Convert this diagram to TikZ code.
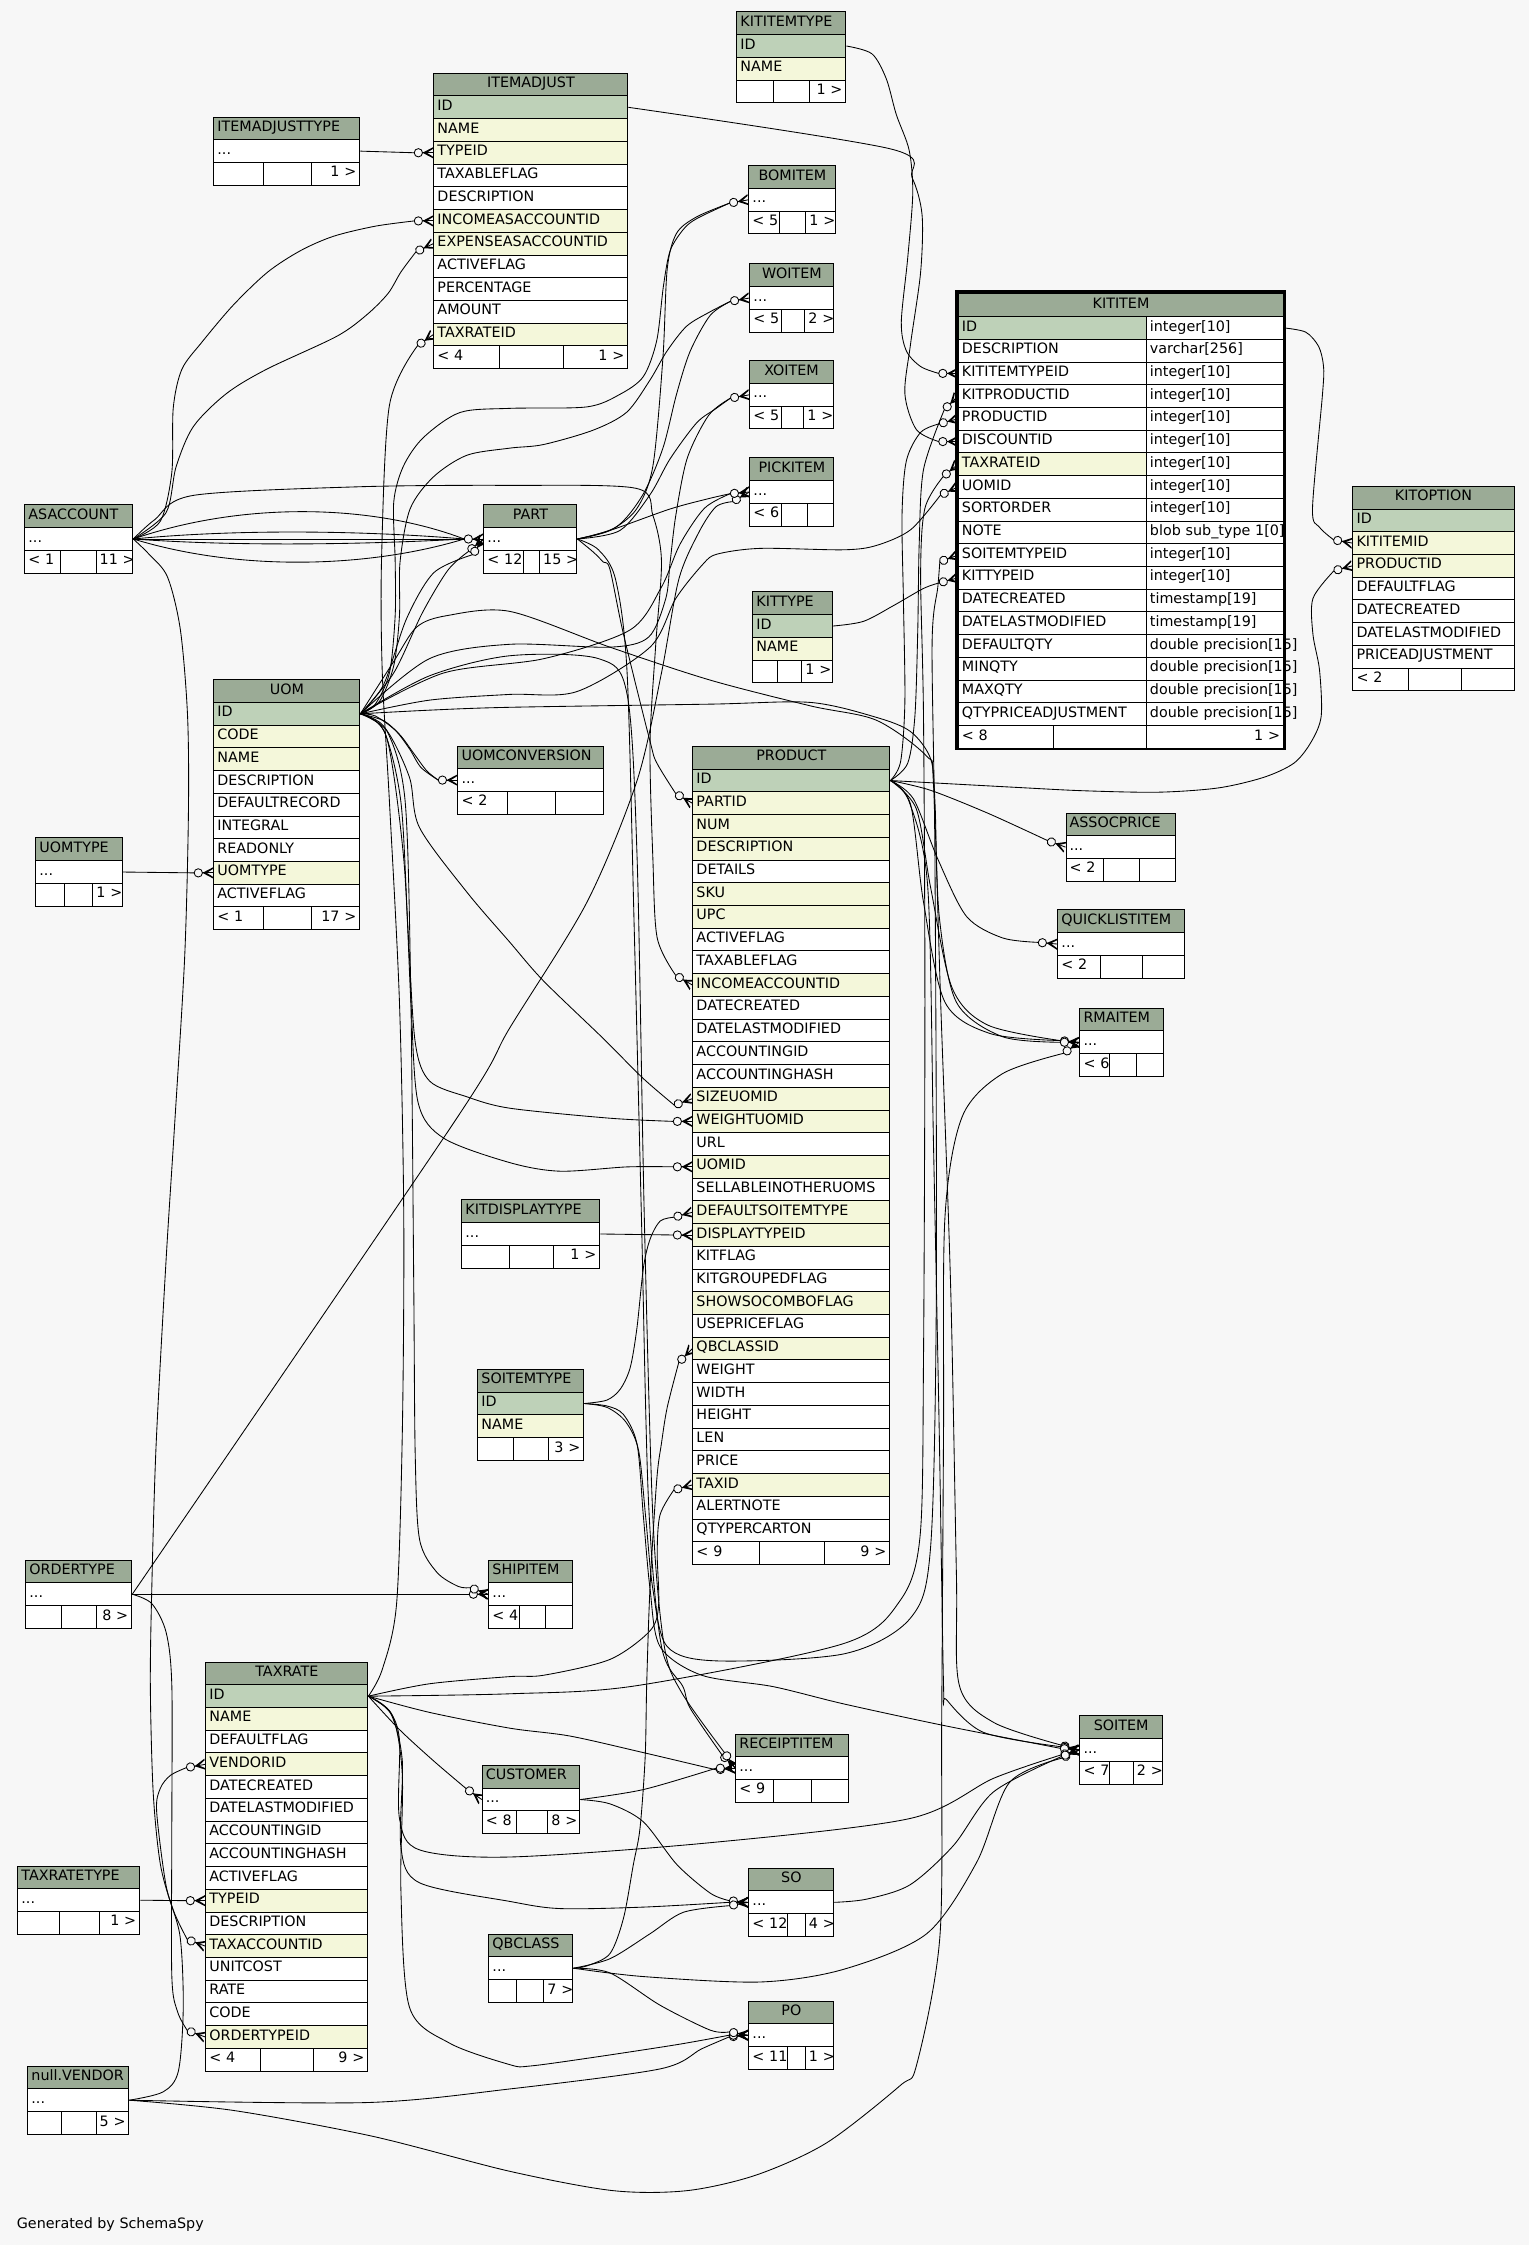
\documentclass[tikz,border=0pt]{standalone}
\usepackage{fontspec}
\setmainfont{DejaVu Sans}
\usetikzlibrary{calc}
\definecolor{hdr}{HTML}{9BAB96}
\definecolor{keyc}{HTML}{BED1B8}
\definecolor{idx}{HTML}{F4F7DA}
\definecolor{bgc}{HTML}{F7F7F7}
\pgfdeclarelayer{bgl}
\pgfdeclarelayer{edl}
\pgfsetlayers{bgl,edl,main}
\newcommand\tfnt{\fontsize{10}{12}\selectfont}
\tikzset{
  rowbox/.style={anchor=north west,draw=black,line width=0.7pt,inner xsep=2.5pt,inner ysep=0pt,minimum height=15.87pt,text height=7.3pt,text depth=3pt,font=\tfnt},
  edge/.style={draw=black,line width=0.6pt},
  sm/.style={smooth,tension=0.5}
}
\newcommand\trow[7][left]{%
  \pgfmathsetmacro\tbw{#5-5}%
  \node[rowbox,fill=#6,minimum width=#5 pt,text width=\tbw pt,align=#1] (#2) at (#3,#4) {\mbox{#7}};}
\newcommand\tfoot[8]{%
  \pgfmathsetmacro\wa{#4-#2}\pgfmathsetmacro\wb{#5-#4}\pgfmathsetmacro\wc{#6-#5}%
  \trow{#1-f1}{#2}{#3}{\wa}{white}{#7}%
  \trow{#1-f2}{#4}{#3}{\wb}{white}{}%
  \trow[right]{#1-f3}{#5}{#3}{\wc}{white}{#8}}
\newcommand\ftbl[5]{%
  \foreach \cn/\cc [count=\ci] in {#5}{%
    \pgfmathsetmacro\yy{#3+\ci*15.87}%
    \trow{#1-\cn}{#2}{\yy}{#4}{\cc}{\cn}}}
\newcommand\krow[4]{\trow{KITITEM-#1}{669.0}{#2}{131.3}{#3}{#1}\trow{KITITEM-#1-t}{800.3}{#2}{95.9}{white}{#4}}
\newcommand\fkend[3]{%
  \begin{scope}[shift={(#2)},rotate=#3]
    \fill (-7.6,0) -- (0,-4) -- (0,-2.9) -- (-4.6,0) -- (0,2.9) -- (0,4) -- cycle;
    \draw[edge] (-7.6,0) -- (0,0);
    \draw[edge,fill=bgc] (-10.5,0) circle (2.9);
    \coordinate (#1) at (-13.4,0);
  \end{scope}}
\begin{document}
\begin{tikzpicture}[x=1pt,y=-1pt]
\begin{pgfonlayer}{bgl}
\fill[bgc] (0,0) rectangle (1068,1568);
\end{pgfonlayer}
\useasboundingbox (0,0) rectangle (1068,1568);

% ---------- tables ----------
\trow{KITITEMTYPE-h}{514.3}{8.0}{76.2}{hdr}{KITITEMTYPE}
\ftbl{KITITEMTYPE}{514.3}{8.0}{76.2}{ID/keyc,NAME/idx}
\tfoot{KITITEMTYPE}{514.3}{55.61}{540.2}{565.3}{590.5}{}{1 >}

\trow{ITEMADJUSTTYPE-h}{149.0}{81.4}{102}{hdr}{ITEMADJUSTTYPE}
\trow{ITEMADJUSTTYPE-x}{149.0}{97.27}{102}{white}{...}
\tfoot{ITEMADJUSTTYPE}{149.0}{113.14}{183.9}{217.5}{251.0}{}{1 >}

\trow[center]{ITEMADJUST-h}{302.7}{50.8}{135.5}{hdr}{ITEMADJUST}
\ftbl{ITEMADJUST}{302.7}{50.8}{135.5}{ID/keyc,NAME/idx,TYPEID/idx,TAXABLEFLAG/white,DESCRIPTION/white,INCOMEASACCOUNTID/idx,EXPENSEASACCOUNTID/idx,ACTIVEFLAG/white,PERCENTAGE/white,AMOUNT/white,TAXRATEID/idx}
\tfoot{ITEMADJUST}{302.7}{241.24}{348.8}{393.5}{438.2}{< 4}{1 >}

\trow[center]{BOMITEM-h}{522.7}{115.4}{60.8}{hdr}{BOMITEM}
\trow{BOMITEM-x}{522.7}{131.27}{60.8}{white}{...}
\tfoot{BOMITEM}{522.7}{147.14}{544.4}{562.5}{583.5}{< 5}{1 >}

\trow[center]{WOITEM-h}{523.4}{184.0}{58.7}{hdr}{WOITEM}
\trow{WOITEM-x}{523.4}{199.87}{58.7}{white}{...}
\tfoot{WOITEM}{523.4}{215.74}{545.3}{561.8}{582.1}{< 5}{2 >}

\trow[center]{XOITEM-h}{523.4}{251.6}{58.2}{hdr}{XOITEM}
\trow{XOITEM-x}{523.4}{267.47}{58.2}{white}{...}
\tfoot{XOITEM}{523.4}{283.34}{545.3}{561.1}{581.6}{< 5}{1 >}

\trow[center]{PICKITEM-h}{523.4}{319.5}{58.7}{hdr}{PICKITEM}
\trow{PICKITEM-x}{523.4}{335.37}{58.7}{white}{...}
\tfoot{PICKITEM}{523.4}{351.24}{545.3}{563.9}{582.1}{< 6}{}

\trow[center]{KITITEM-h}{669.0}{204.9}{227.2}{hdr}{KITITEM}
\krow{ID}{220.77}{keyc}{integer[10]}
\krow{DESCRIPTION}{236.64}{white}{varchar[256]}
\krow{KITITEMTYPEID}{252.51}{white}{integer[10]}
\krow{KITPRODUCTID}{268.38}{white}{integer[10]}
\krow{PRODUCTID}{284.25}{white}{integer[10]}
\krow{DISCOUNTID}{300.12}{white}{integer[10]}
\krow{TAXRATEID}{315.99}{idx}{integer[10]}
\krow{UOMID}{331.86}{white}{integer[10]}
\krow{SORTORDER}{347.73}{white}{integer[10]}
\krow{NOTE}{363.6}{white}{blob sub\_type 1[0]}
\krow{SOITEMTYPEID}{379.47}{white}{integer[10]}
\krow{KITTYPEID}{395.34}{white}{integer[10]}
\krow{DATECREATED}{411.21}{white}{timestamp[19]}
\krow{DATELASTMODIFIED}{427.08}{white}{timestamp[19]}
\krow{DEFAULTQTY}{442.95}{white}{double precision[15]}
\krow{MINQTY}{458.82}{white}{double precision[15]}
\krow{MAXQTY}{474.69}{white}{double precision[15]}
\krow{QTYPRICEADJUSTMENT}{490.56}{white}{double precision[15]}
\tfoot{KITITEM}{669.0}{506.43}{735.1}{800.3}{896.2}{< 8}{1 >}
\draw[line width=1.9pt] (667.9,203.6) rectangle (897.4,523.1);

\trow[center]{KITOPTION-h}{944.6}{339.3}{112.5}{hdr}{KITOPTION}
\ftbl{KITOPTION}{944.6}{339.3}{112.5}{ID/keyc,KITITEMID/idx,PRODUCTID/idx,DEFAULTFLAG/white,DATECREATED/white,DATELASTMODIFIED/white,PRICEADJUSTMENT/white}
\tfoot{KITOPTION}{944.6}{466.26}{983.1}{1020.1}{1057.1}{< 2}{}

\trow{ASACCOUNT-h}{17.0}{352.3}{75.4}{hdr}{ASACCOUNT}
\trow{ASACCOUNT-x}{17.0}{368.17}{75.4}{white}{...}
\tfoot{ASACCOUNT}{17.0}{384.04}{42.1}{66.8}{92.4}{< 1}{11 >}

\trow[center]{PART-h}{337.6}{352.3}{65.0}{hdr}{PART}
\trow{PART-x}{337.6}{368.17}{65.0}{white}{...}
\tfoot{PART}{337.6}{384.04}{365.0}{376.5}{402.6}{< 12}{15 >}

\trow[center]{UOM-h}{149.0}{474.4}{102}{hdr}{UOM}
\ftbl{UOM}{149.0}{474.4}{102}{ID/keyc,CODE/idx,NAME/idx,DESCRIPTION/white,DEFAULTRECORD/white,INTEGRAL/white,READONLY/white,UOMTYPE/idx,ACTIVEFLAG/white}
\tfoot{UOM}{149.0}{633.1}{183.9}{217.5}{251.0}{< 1}{17 >}

\trow{UOMTYPE-h}{24.7}{584.9}{60.3}{hdr}{UOMTYPE}
\trow{UOMTYPE-x}{24.7}{600.77}{60.3}{white}{...}
\tfoot{UOMTYPE}{24.7}{616.64}{44.9}{64.5}{85.0}{}{1 >}

\trow{UOMCONVERSION-h}{319.5}{520.7}{101.9}{hdr}{UOMCONVERSION}
\trow{UOMCONVERSION-x}{319.5}{536.57}{101.9}{white}{...}
\tfoot{UOMCONVERSION}{319.5}{552.44}{354.4}{387.9}{421.4}{< 2}{}

\trow{KITTYPE-h}{525.5}{413.1}{55.4}{hdr}{KITTYPE}
\ftbl{KITTYPE}{525.5}{413.1}{55.4}{ID/keyc,NAME/idx}
\tfoot{KITTYPE}{525.5}{460.71}{543.0}{559.7}{580.9}{}{1 >}

\trow[center]{PRODUCT-h}{483.6}{521.0}{137.6}{hdr}{PRODUCT}
\ftbl{PRODUCT}{483.6}{521.0}{137.6}{ID/keyc,PARTID/idx,NUM/idx,DESCRIPTION/idx,DETAILS/white,SKU/idx,UPC/idx,ACTIVEFLAG/white,TAXABLEFLAG/white,INCOMEACCOUNTID/idx,DATECREATED/white,DATELASTMODIFIED/white,ACCOUNTINGID/white,ACCOUNTINGHASH/white,SIZEUOMID/idx,WEIGHTUOMID/idx,URL/white,UOMID/idx,SELLABLEINOTHERUOMS/white,DEFAULTSOITEMTYPE/idx,DISPLAYTYPEID/idx,KITFLAG/white,KITGROUPEDFLAG/white,SHOWSOCOMBOFLAG/idx,USEPRICEFLAG/white,QBCLASSID/idx,WEIGHT/white,WIDTH/white,HEIGHT/white,LEN/white,PRICE/white,TAXID/idx,ALERTNOTE/white,QTYPERCARTON/white}
\tfoot{PRODUCT}{483.6}{1076.45}{530.4}{575.6}{621.2}{< 9}{9 >}

\trow{ASSOCPRICE-h}{744.2}{567.5}{76.8}{hdr}{ASSOCPRICE}
\trow{ASSOCPRICE-x}{744.2}{583.37}{76.8}{white}{...}
\tfoot{ASSOCPRICE}{744.2}{599.24}{770.7}{795.8}{821.0}{< 2}{}

\trow{QUICKLISTITEM-h}{738.5}{635.2}{88.1}{hdr}{QUICKLISTITEM}
\trow{QUICKLISTITEM-x}{738.5}{651.07}{88.1}{white}{...}
\tfoot{QUICKLISTITEM}{738.5}{666.94}{768.6}{797.5}{826.6}{< 2}{}

\trow{RMAITEM-h}{753.9}{703.8}{58.7}{hdr}{RMAITEM}
\trow{RMAITEM-x}{753.9}{719.67}{58.7}{white}{...}
\tfoot{RMAITEM}{753.9}{735.54}{774.9}{793.7}{812.6}{< 6}{}

\trow{KITDISPLAYTYPE-h}{322.2}{837.7}{96.4}{hdr}{KITDISPLAYTYPE}
\trow{KITDISPLAYTYPE-x}{322.2}{853.57}{96.4}{white}{...}
\tfoot{KITDISPLAYTYPE}{322.2}{869.44}{355.3}{386.5}{418.6}{}{1 >}

\trow{SOITEMTYPE-h}{333.4}{956.1}{74.1}{hdr}{SOITEMTYPE}
\ftbl{SOITEMTYPE}{333.4}{956.1}{74.1}{ID/keyc,NAME/idx}
\tfoot{SOITEMTYPE}{333.4}{1003.71}{358.6}{383.0}{407.5}{}{3 >}

\trow{ORDERTYPE-h}{17.7}{1089.3}{74.0}{hdr}{ORDERTYPE}
\trow{ORDERTYPE-x}{17.7}{1105.17}{74.0}{white}{...}
\tfoot{ORDERTYPE}{17.7}{1121.04}{42.8}{67.3}{91.7}{}{8 >}

\trow{SHIPITEM-h}{341.1}{1089.3}{58.7}{hdr}{SHIPITEM}
\trow{SHIPITEM-x}{341.1}{1105.17}{58.7}{white}{...}
\tfoot{SHIPITEM}{341.1}{1121.04}{362.8}{380.9}{399.8}{< 4}{}

\trow[center]{TAXRATE-h}{143.4}{1160.5}{113.2}{hdr}{TAXRATE}
\ftbl{TAXRATE}{143.4}{1160.5}{113.2}{ID/keyc,NAME/idx,DEFAULTFLAG/white,VENDORID/idx,DATECREATED/white,DATELASTMODIFIED/white,ACCOUNTINGID/white,ACCOUNTINGHASH/white,ACTIVEFLAG/white,TYPEID/idx,DESCRIPTION/white,TAXACCOUNTID/idx,UNITCOST/white,RATE/white,CODE/white,ORDERTYPEID/idx}
\tfoot{TAXRATE}{143.4}{1430.29}{181.9}{218.9}{256.6}{< 4}{9 >}

\trow[center]{SOITEM-h}{753.9}{1198.1}{57.6}{hdr}{SOITEM}
\trow{SOITEM-x}{753.9}{1213.97}{57.6}{white}{...}
\tfoot{SOITEM}{753.9}{1229.84}{774.9}{791.2}{811.5}{< 7}{2 >}

\trow{RECEIPTITEM-h}{513.6}{1210.8}{79.0}{hdr}{RECEIPTITEM}
\trow{RECEIPTITEM-x}{513.6}{1226.67}{79.0}{white}{...}
\tfoot{RECEIPTITEM}{513.6}{1242.54}{540.2}{566.7}{592.6}{< 9}{}

\trow{CUSTOMER-h}{336.5}{1232.7}{68.2}{hdr}{CUSTOMER}
\trow{CUSTOMER-x}{336.5}{1248.57}{68.2}{white}{...}
\tfoot{CUSTOMER}{336.5}{1264.44}{360.2}{382.3}{404.7}{< 8}{8 >}

\trow{TAXRATETYPE-h}{12.1}{1303.0}{85.2}{hdr}{TAXRATETYPE}
\trow{TAXRATETYPE-x}{12.1}{1318.87}{85.2}{white}{...}
\tfoot{TAXRATETYPE}{12.1}{1334.74}{41.4}{69.4}{97.3}{}{1 >}

\trow[center]{SO-h}{522.7}{1304.5}{59.4}{hdr}{SO}
\trow{SO-x}{522.7}{1320.37}{59.4}{white}{...}
\tfoot{SO}{522.7}{1336.24}{550.0}{562.1}{582.1}{< 12}{4 >}

\trow{QBCLASS-h}{341.1}{1350.5}{58.7}{hdr}{QBCLASS}
\trow{QBCLASS-x}{341.1}{1366.37}{58.7}{white}{...}
\tfoot{QBCLASS}{341.1}{1382.24}{360.4}{379.5}{399.8}{}{7 >}

\trow[center]{PO-h}{522.7}{1397.3}{59.4}{hdr}{PO}
\trow{PO-x}{522.7}{1413.17}{59.4}{white}{...}
\tfoot{PO}{522.7}{1429.04}{550.0}{562.1}{582.1}{< 11}{1 >}

\trow{VENDOR-h}{19.1}{1442.7}{70.5}{hdr}{null.VENDOR}
\trow{VENDOR-x}{19.1}{1458.57}{70.5}{white}{...}
\tfoot{VENDOR}{19.1}{1474.44}{42.8}{66.8}{89.6}{}{5 >}

\node[anchor=base west,font=\tfnt,inner sep=0pt] (gen) at (11.6,1556.3) {Generated by SchemaSpy};

% ---------- connectors ----------
\begin{pgfonlayer}{edl}
\fkend{mA1}{ITEMADJUST-TYPEID.west}{0}
\draw[edge] (ITEMADJUSTTYPE-x.east) -- (mA1);
\fkend{mA2}{ITEMADJUST-INCOMEASACCOUNTID.west}{0}
\draw[edge] plot[sm] coordinates {(ASACCOUNT-x.east) (112,364) (120,330) (121,285) (127,258) (141,239) (163,213) (187,190) (210,175) (233,165) (262,158) (mA2)};
\fkend{mA3}{ITEMADJUST-EXPENSEASACCOUNTID.west}{25}
\draw[edge] plot[sm] coordinates {(ASACCOUNT-x.east) (116,358) (123,326) (135,298) (158,275) (186,258) (235,235) (256,220) (271,205) (280,190) (mA3)};
\fkend{mA4}{ITEMADJUST-TAXRATEID.west}{35}
\draw[edge] plot[sm] coordinates {(TAXRATE-ID.east) (267,1166) (277,1120) (281,1000) (282,850) (279,700) (272,560) (267,470) (266.5,390) (272,283) (mA4)};

\fkend{mK1}{KITITEM-KITITEMTYPEID.west}{0}
\draw[edge] plot[sm] coordinates {(KITITEMTYPE-ID.east) (609,37.6) (619,55) (626,80) (635,105) (637.5,135) (634,180) (629.5,225) (633,245) (643,256) (mK1)};
\fkend{mK2}{KITITEM-DISCOUNTID.west}{0}
\draw[edge] plot[sm] coordinates {(ITEMADJUST-ID.east) (622,104) (637,124) (644,150) (643,190) (636,240) (632,275) (640,300) (mK2)};
\fkend{mK3}{KITOPTION-KITITEMID.west}{-10}
\draw[edge] plot[sm] coordinates {(KITITEM-ID-t.east) (912,232) (921,242) (924.4,256) (923.7,275) (916.7,355) (921.4,368) (mK3)};
\fkend{mK4}{KITOPTION-PRODUCTID.west}{15}
\draw[edge] plot[sm] coordinates {(PRODUCT-ID.east) (711,550) (757,552.3) (809,553.3) (851,550.3) (883,542.8) (904,532.8) (916,517.8) (922.8,500) (921.6,468) (917,443) (917,418) (mK4)};
\fkend{mK5}{KITITEM-KITTYPEID.west}{15}
\draw[edge] plot[sm] coordinates {(KITTYPE-ID.east) (603,434) (624,423) (645,411) (mK5)};
\fkend{mK6}{KITITEM-PRODUCTID.west}{15}
\draw[edge] plot[sm] coordinates {(PRODUCT-ID.east) (629,532) (632,490) (631,420) (630,360) (633,322) (643,302) (mK6)};
\fkend{mK7}{KITITEM-KITPRODUCTID.west}{45}
\draw[edge] plot[sm] coordinates {(PRODUCT-ID.east) (634,533) (639,500) (641,440) (642,380) (645,328) (mK7)};
\fkend{mK8}{KITITEM-UOMID.west}{25}
\draw[edge] plot[sm] coordinates {(UOM-ID.east) (300,489) (356,485) (403,483) (454,452) (472,418) (491,394) (501,387) (531,383) (589,384) (612,381) (636,370) (mK8)};
\fkend{mK9}{KITITEM-TAXRATEID.west}{40}
\draw[edge] plot[sm] coordinates {(TAXRATE-ID.east) (356,1183) (443.5,1177.5) (589,1148) (628.6,1118) (642.6,1073) (645,950) (646,700) (645,500) (643,400) (646,355) (mK9)};
\fkend{mK10}{KITITEM-SOITEMTYPEID.west}{20}
\draw[edge] plot[sm] coordinates {(SOITEMTYPE-ID.east) (424,983) (437,993) (446,1013) (451,1060) (456,1110) (466,1150) (500,1160) (590,1155) (636,1130) (650,1080) (654,900) (653,600) (651,450) (655,410) (mK10)};

\fkend{mP0}{PART-x.west}{0}
\draw[edge] (ASACCOUNT-x.east) .. controls (170,350) and (260,352) .. (mP0);
\draw[edge] (ASACCOUNT-x.east) .. controls (170,369) and (260,371) .. (mP0);
\draw[edge] (ASACCOUNT-x.east) -- (mP0);
\draw[edge] (ASACCOUNT-x.east) .. controls (170,382) and (260,380) .. (mP0);
\draw[edge] (ASACCOUNT-x.east) .. controls (170,400) and (260,396) .. (mP0);
\fkend{mP1}{PART-x.west}{40}
\draw[edge] plot[sm] coordinates {(UOM-ID.east) (275,470) (295,428) (313,398) (mP1)};
\fkend{mP2}{PART-x.west}{55}
\draw[edge] plot[sm] coordinates {(UOM-ID.east) (268,478) (284,432) (303,400) (mP2)};

\fkend{mPr1}{PRODUCT-INCOMEACCOUNTID.west}{-30}
\draw[edge] plot[sm] coordinates {(ASACCOUNT-x.east) (108,363) (135,346) (250,340) (356,339) (444,341) (456,360) (462,392) (458,450) (454,520) (456,600) (459,655) (mPr1)};
\fkend{mT1}{TAXRATE-TAXACCOUNTID.west}{-20}
\draw[edge] plot[sm] coordinates {(ASACCOUNT-x.east) (104,387) (117,403) (126,440) (131,500) (131.6,568) (129,668) (122,785) (116,880) (109,1010) (106,1110) (105,1178) (107,1252) (112,1302) (121,1334) (mT1)};
\fkend{mU1}{UOM-UOMTYPE.west}{0}
\draw[edge] (UOMTYPE-x.east) -- (mU1);
\fkend{mT2}{TAXRATE-TYPEID.west}{0}
\draw[edge] (TAXRATETYPE-x.east) -- (mT2);
\fkend{mS1}{SHIPITEM-x.west}{0}
\draw[edge] (ORDERTYPE-x.east) -- (mS1);
\fkend{mT3}{TAXRATE-ORDERTYPEID.west}{-20}
\draw[edge] plot[sm] coordinates {(ORDERTYPE-x.east) (106,1120) (116,1140) (120,1177) (120,1277) (120,1380) (124,1405) (mT3)};
\fkend{mPk1}{PICKITEM-x.west}{30}
\draw[edge] plot[sm] coordinates {(ORDERTYPE-x.east) (316.7,784.5) (356,718) (410,630) (445,545) (462,470) (474,405) (488,372) (500,354) (mPk1)};
\fkend{mT4}{TAXRATE-VENDORID.west}{10}
\draw[edge] plot[sm] coordinates {(VENDOR-x.east) (114,1461) (124.6,1446.5) (128,1402) (125.7,1352) (116,1317) (109.4,1265) (112,1249) (119,1240) (mT4)};
\fkend{mPO1}{PO-x.west}{5}
\draw[edge] plot[sm] coordinates {(VENDOR-x.east) (256,1468.5) (356,1459) (461,1445) (490,1431) (mPO1)};
\fkend{mRm1}{RMAITEM-x.west}{35}
\draw[edge] plot[sm] coordinates {(VENDOR-x.east) (163,1474) (260,1492) (356,1516.5) (428,1530) (480,1530) (528.5,1519) (577.4,1496.6) (628.6,1456.7) (640.3,1441.8) (656.5,1352) (657.7,1202.7) (659,1000) (660,850) (672,780) (700,750) (mRm1)};

\fkend{mB1}{BOMITEM-x.west}{10}
\draw[edge] plot[sm] coordinates {(PART-x.east) (426,370.5) (444.6,355.5) (456,325.5) (463,250) (466,188) (472.5,163) (486.5,151.5) (mB1)};
\draw[edge] plot[sm] coordinates {(UOM-ID.east) (262,492) (272,470) (276,430) (276,392) (275,350.7) (281.7,325.7) (295.7,305.6) (321.3,288.1) (356.2,285.2) (409.8,284.2) (433,275.4) (449.4,262.9) (458.7,237.8) (463.3,200.3) (468,175.3) (477.3,160.2) (486.6,152.7) (mB1)};
\fkend{mW1}{WOITEM-x.west}{10}
\draw[edge] plot[sm] coordinates {(PART-x.east) (430.5,368) (449,345.5) (463,313) (472.5,275.4) (482,245.4) (496,220.3) (mW1)};
\draw[edge] plot[sm] coordinates {(UOM-ID.east) (265,490) (275,465) (279,430) (279.4,392.6) (286.4,355.5) (302.7,333.1) (326,318) (356,313) (379.5,310.5) (414.4,300.4) (437.7,287.9) (454,265.4) (465.7,245.4) (479.6,227.8) (495.9,217.8) (mW1)};
\fkend{mX1}{XOITEM-x.west}{10}
\draw[edge] plot[sm] coordinates {(PART-x.east) (433,370.5) (454,345.5) (468,320.5) (486.5,295.4) (500,285.4) (mX1)};
\draw[edge] plot[sm] coordinates {(UOM-ID.east) (300,460) (356,450) (426,452) (453,445) (465,418) (468,393) (472,360) (480,320) (495,290) (mX1)};
\fkend{mPk2}{PICKITEM-x.west}{5}
\draw[edge] plot[sm] coordinates {(PART-x.east) (426,370.5) (468,355.5) (496,348) (mPk2)};
\draw[edge] plot[sm] coordinates {(UOM-ID.east) (310,470) (380,460) (440,440) (462,410) (475,380) (492,355) (mPk2)};

\fkend{mPr2}{PRODUCT-PARTID.west}{-30}
\draw[edge] plot[sm] coordinates {(PART-x.east) (414.4,385.6) (421.4,392.6) (426,397.6) (435.4,442.7) (454,517.8) (458.7,532.8) (mPr2)};
\fkend{mR1}{RECEIPTITEM-x.west}{-45}
\draw[edge] plot[sm] coordinates {(PART-x.east) (418,384) (430,405) (438,470) (443,650) (448,850) (453,1050) (462,1150) (477,1178) (482,1193) (mR1)};
\fkend{mR5}{RECEIPTITEM-x.west}{-55}
\draw[edge] plot[sm] coordinates {(UOM-ID.east) (300,472) (356,458) (418,460) (438,485) (445,600) (450,850) (456,1060) (464,1150) (476,1182) (mR5)};
\fkend{mPr3}{PRODUCT-DISPLAYTYPEID.west}{0}
\draw[edge] (KITDISPLAYTYPE-x.east) -- (mPr3);
\fkend{mPr4}{PRODUCT-DEFAULTSOITEMTYPE.west}{15}
\draw[edge] plot[sm] coordinates {(SOITEMTYPE-ID.east) (423.8,977.9) (433.1,970.4) (440.1,955.4) (444.8,928) (449.4,885.3) (454.1,865.3) (461.1,852.8) (mPr4)};
\fkend{mPr5}{PRODUCT-SIZEUOMID.west}{20}
\draw[edge] plot[sm] coordinates {(UOM-ID.east) (270,510) (286,543) (293,578) (326,623) (356,658) (379.5,685) (421,725) (449,753) (mPr5)};
\fkend{mPr6}{PRODUCT-WEIGHTUOMID.west}{0}
\draw[edge] plot[sm] coordinates {(UOM-ID.east) (268,510) (280,560) (285,650) (290,728) (300,755) (326,766) (356,774) (426,781) (mPr6)};
\fkend{mPr7}{PRODUCT-UOMID.west}{0}
\draw[edge] plot[sm] coordinates {(UOM-ID.east) (270,515) (282,600) (287,700) (292,770) (310,795) (356,812) (391,818) (438,815) (mPr7)};
\fkend{mPr8}{PRODUCT-QBCLASSID.west}{45}
\draw[edge] plot[sm] coordinates {(QBCLASS-x.east) (410,1373) (426,1364.5) (435.5,1339.6) (442.4,1302) (447,1277) (450.6,1227.5) (451.7,1175.7) (454,1108.6) (458.7,1033.5) (462,1008) (466,983) (mPr8)};
\fkend{mPr9}{PRODUCT-TAXID.west}{15}
\draw[edge] plot[sm] coordinates {(TAXRATE-ID.east) (300,1176) (356,1171) (380,1170) (426,1159) (454,1139) (460,1121) (459,1084) (461,1058) (mPr9)};
\fkend{mUC1}{UOMCONVERSION-x.west}{0}
\draw[edge] plot[sm] coordinates {(UOM-ID.east) (267.8,503.3) (279.4,513.3) (288.7,525.8) (298,538.3) (mUC1)};
\draw[edge] plot[sm] coordinates {(UOM-ID.east) (262,500) (276,510) (286,523) (294,536) (mUC1)};

\fkend{mAP}{ASSOCPRICE-x.west}{-20}
\draw[edge] plot[sm] coordinates {(PRODUCT-ID.east) (650,552) (690,568) (mAP)};
\fkend{mQL}{QUICKLISTITEM-x.west}{-5}
\draw[edge] plot[sm] coordinates {(PRODUCT-ID.east) (638,558) (655,600) (675,640) (700,655) (mQL)};
\fkend{mRm2}{RMAITEM-x.west}{-5}
\draw[edge] plot[sm] coordinates {(PRODUCT-ID.east) (640,565) (650,620) (665,690) (690,716) (mRm2)};
\draw[edge] plot[sm] coordinates {(PRODUCT-ID.east) (636,562) (645,630) (660,700) (692,722) (mRm2)};
\fkend{mRm3}{RMAITEM-x.west}{0}
\draw[edge] plot[sm] coordinates {(UOM-ID.east) (300,496) (356,494) (496,491.8) (566,490.6) (612,501) (636,511) (650,530) (653,560) (656,640) (668,700) (700,724) (mRm3)};

\fkend{mSI1}{SOITEM-x.west}{-15}
\draw[edge] plot[sm] coordinates {(UOM-ID.east) (275,462) (291,438) (312,430) (356,427) (426,452) (496,475) (566,493) (612,503) (647,528) (652,548) (657,700) (664,900) (668,1100) (670,1177) (694,1203) (mSI1)};
\fkend{mSI2}{SOITEM-x.west}{-10}
\draw[edge] plot[sm] coordinates {(PRODUCT-ID.east) (635,560) (648,620) (652,800) (656,1000) (659,1177) (661,1187) (687,1210) (mSI2)};
\fkend{mSI3}{SOITEM-x.west}{-5}
\draw[edge] plot[sm] coordinates {(SOITEMTYPE-ID.east) (424,982) (435.5,988) (445,1009) (449.4,1059.5) (454,1109.6) (461,1150) (490,1170) (540,1178) (589,1190) (658.5,1205) (mSI3)};
\fkend{mSI4}{SOITEM-x.west}{15}
\draw[edge] plot[sm] coordinates {(TAXRATE-ID.east) (272,1195) (279,1215) (279,1270) (293,1292) (356,1297) (496,1287) (636,1270) (694,1242) (mSI4)};
\fkend{mSI5}{SOITEM-x.west}{25}
\draw[edge] plot[sm] coordinates {(QBCLASS-x.east) (449.3,1380.5) (530.8,1384.3) (589,1375.5) (647.2,1350.6) (682.1,1300.8) (705,1245) (mSI5)};
\fkend{mSI6}{SOITEM-x.west}{20}
\draw[edge] plot[sm] coordinates {(SO-x.east) (605.4,1326.4) (635.6,1316.4) (665.9,1289) (693.8,1251.6) (mSI6)};

\fkend{mC1}{CUSTOMER-x.west}{-35}
\draw[edge] plot[sm] coordinates {(TAXRATE-ID.east) (279,1208) (303,1230) (mC1)};
\fkend{mR2}{RECEIPTITEM-x.west}{5}
\draw[edge] plot[sm] coordinates {(TAXRATE-ID.east) (300,1196) (356,1207) (398,1212.5) (449,1224) (mR2)};
\fkend{mR3}{RECEIPTITEM-x.west}{0}
\draw[edge] plot[sm] coordinates {(CUSTOMER-x.east) (449.3,1249.9) (mR3)};
\fkend{mSO1}{SO-x.west}{0}
\draw[edge] plot[sm] coordinates {(TAXRATE-ID.east) (273,1197) (281,1230) (280,1290) (293,1315) (356,1328) (391,1333) (449,1332) (mSO1)};
\fkend{mSO2}{SO-x.west}{-5}
\draw[edge] plot[sm] coordinates {(CUSTOMER-x.east) (426.1,1259.9) (449.3,1272.4) (472.7,1302.2) (496,1322.2) (mSO2)};
\fkend{mSO3}{SO-x.west}{10}
\draw[edge] plot[sm] coordinates {(QBCLASS-x.east) (426.1,1368) (454,1350.6) (477.3,1335.6) (mSO3)};
\fkend{mPO2}{PO-x.west}{0}
\draw[edge] plot[sm] coordinates {(TAXRATE-ID.east) (274,1198) (281,1240) (280,1320) (286,1402) (314,1427) (356,1442) (370,1443) (414,1437) (473,1428) (mPO2)};
\fkend{mPO3}{PO-x.west}{-10}
\draw[edge] plot[sm] coordinates {(QBCLASS-x.east) (426.1,1378) (461,1400.5) (496,1417.9) (mPO3)};
\fkend{mS2}{SHIPITEM-x.west}{-20}
\draw[edge] plot[sm] coordinates {(UOM-ID.east) (270,510) (283,560) (287,700) (289,900) (290,1016) (293,1075) (305,1098) (320,1108) (mS2)};
\end{pgfonlayer}
\end{tikzpicture}
\end{document}
